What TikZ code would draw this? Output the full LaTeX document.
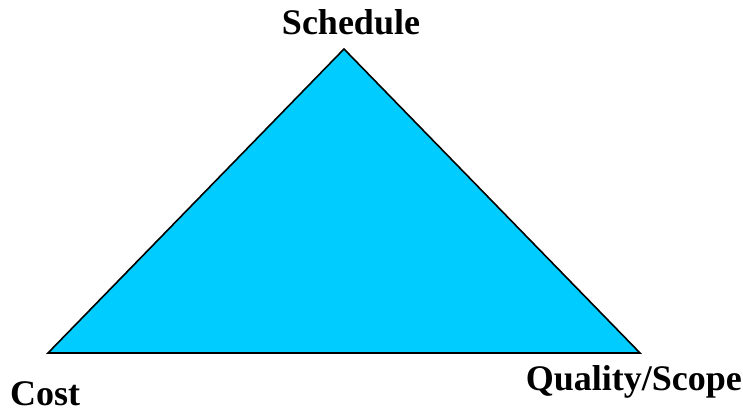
\documentclass[tikz,border=0pt]{standalone}
\usepackage{fontspec}
\setmainfont{Liberation Serif}
\definecolor{tri}{HTML}{00CCFF}
\tikzset{lbl/.style={font=\fontsize{36}{40}\selectfont\bfseries, inner sep=0pt}}
\begin{document}
\begin{tikzpicture}[x=1pt,y=-1pt]
\useasboundingbox (0,0) rectangle (743,414);
\coordinate (top) at (344,49);
\coordinate (bl) at (48,353);
\coordinate (br) at (640,353);
\filldraw[fill=tri, draw=black, line width=1.6pt, line join=miter] (top) -- (bl) -- (br) -- cycle;
\node[lbl, anchor=base] (sched) at (351,35) {Schedule};
\node[lbl, anchor=base west] (cost) at (10,405) {Cost};
\node[lbl, anchor=base east] (qual) at (742,390) {Quality/Scope};
\end{tikzpicture}
\end{document}
